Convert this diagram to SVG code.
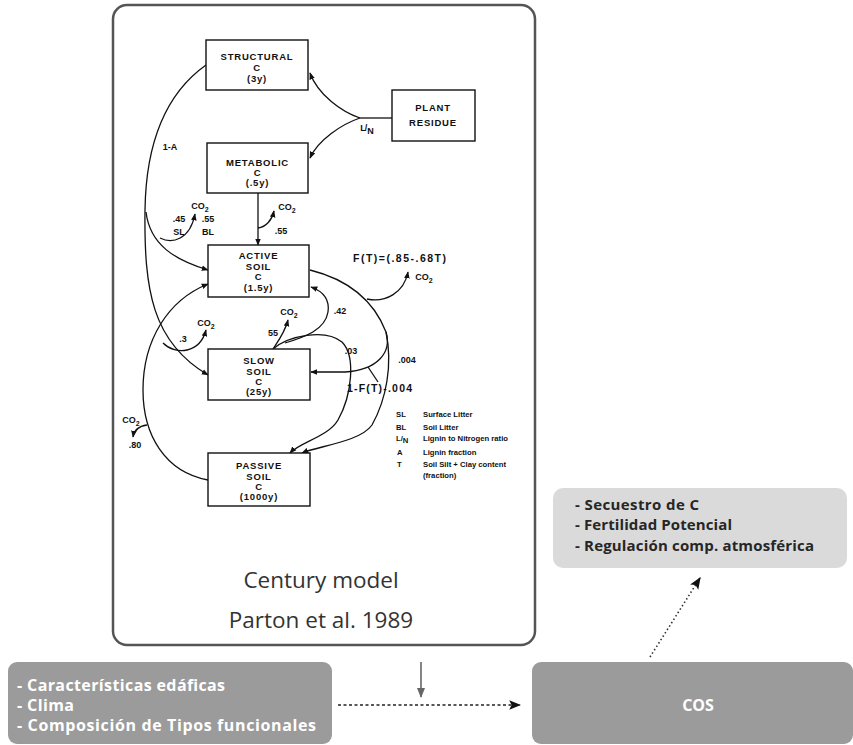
<svg xmlns="http://www.w3.org/2000/svg" width="853" height="745" viewBox="0 0 853 745">
<defs>
<style>
.ln{fill:none;stroke:#111;stroke-width:1.3}
.bx{fill:#fff;stroke:#111;stroke-width:1.4}
.t{font-family:"Liberation Sans",Arial,sans-serif;font-weight:bold;font-size:9.5px;fill:#111;text-anchor:middle;letter-spacing:0.8px}
.s{font-family:"Liberation Sans",Arial,sans-serif;font-weight:bold;font-size:9px;fill:#111;text-anchor:middle}
.sl{font-family:"Liberation Sans",Arial,sans-serif;font-weight:bold;font-size:10.5px;fill:#111;text-anchor:start}
.lg{font-family:"Liberation Sans",Arial,sans-serif;font-weight:bold;font-size:7.7px;fill:#111}
.w{font-family:"Open Sans",sans-serif;font-weight:700;fill:#fff;font-size:16px}
.d{font-family:"Open Sans",sans-serif;font-weight:700;fill:#262626;font-size:15px}
.cap{font-family:"Open Sans",sans-serif;font-size:22.5px;fill:#333;text-anchor:middle}
</style>
<marker id="ah" viewBox="0 0 10 10" refX="9" refY="5" markerWidth="7" markerHeight="7" orient="auto" markerUnits="userSpaceOnUse"><path d="M0,1 L10,5 L0,9 z" fill="#111"/></marker>
<marker id="ahg" viewBox="0 0 10 10" refX="9" refY="5" markerWidth="10" markerHeight="10" orient="auto" markerUnits="userSpaceOnUse"><path d="M0,1 L10,5 L0,9 z" fill="#666"/></marker>
<marker id="ahb" viewBox="0 0 10 10" refX="9" refY="5" markerWidth="12" markerHeight="12" orient="auto" markerUnits="userSpaceOnUse"><path d="M0,1 L10,5 L0,9 L2,5 z" fill="#111"/></marker>
</defs>
<rect width="853" height="745" fill="#fff"/>

<g id="century-frame">
<rect x="113" y="5" width="422" height="640" rx="14" fill="#fff" stroke="#555" stroke-width="2.5"/>
<text class="cap" x="321" y="588">Century model</text>
<text class="cap" x="321" y="628">Parton et al. 1989</text>
</g>

<g id="connectors">
<path class="ln" d="M392,118 L360,118"/>
<path class="ln" d="M360,118 C342,112 318,95 310,73" marker-end="url(#ah)"/>
<path class="ln" d="M360,118 C342,124 318,140 310,158" marker-end="url(#ah)"/>
<path class="ln" d="M206,65 C168,92 146,140 145,210 C144,290 152,342 208,375" marker-end="url(#ah)"/>
<path class="ln" d="M146,212 C150,245 175,260 208,270" marker-end="url(#ah)"/>
<path class="ln" d="M160,238 C172,244 190,240 195,214" marker-end="url(#ah)"/>
<path class="ln" d="M258,193 L258,245" marker-end="url(#ah)"/>
<path class="ln" d="M258,228 C266,227 272,220 274,211" marker-end="url(#ah)"/>
<path class="ln" d="M310,270 C342,278 372,296 386,332"/>
<path class="ln" d="M367,299 C385,303 404,293 408,272" marker-end="url(#ah)"/>
<path class="ln" d="M386,332 C392,352 378,370 345,372 L311,372" marker-end="url(#ah)"/>
<path class="ln" d="M386,332 C393,365 386,400 372,425 C360,442 318,446 302,453" marker-end="url(#ah)"/>
<path class="ln" d="M273,349 C288,336 325,328 342,342 C356,356 352,395 338,420 C328,437 300,442 290,453" marker-end="url(#ah)"/>
<path class="ln" d="M285,343 C305,337 325,330 328,312 C330,298 322,291 311,287" marker-end="url(#ah)"/>
<path class="ln" d="M273,349 C279,340 285,332 288,320" marker-end="url(#ah)"/>
<path class="ln" d="M163,343 C176,356 200,353 206,330" marker-end="url(#ah)"/>
<path class="ln" d="M208,480 C165,472 143,435 143,390 C143,340 168,300 208,284" marker-end="url(#ah)"/>
<path class="ln" d="M147,425 C140,426 134,430 133,437" marker-end="url(#ah)"/>
<path class="ln" d="M378,382 L368,367"/>
</g>

<g id="structural">
<rect class="bx" x="206" y="40" width="102" height="50"/>
<text class="t" x="257" y="60">STRUCTURAL</text>
<text class="t" x="257" y="71">C</text>
<text class="t" x="257" y="82">(3y)</text>
</g>
<g id="metabolic">
<rect class="bx" x="207" y="143" width="101" height="50"/>
<text class="t" x="257.5" y="166">METABOLIC</text>
<text class="t" x="257.5" y="176">C</text>
<text class="t" x="257.5" y="186">(.5y)</text>
</g>
<g id="plant-residue">
<rect class="bx" x="392" y="90" width="83" height="51"/>
<text class="t" x="433" y="111">PLANT</text>
<text class="t" x="433" y="126">RESIDUE</text>
</g>
<g id="active">
<rect class="bx" x="208" y="245" width="101" height="52"/>
<text class="t" x="258.5" y="259">ACTIVE</text>
<text class="t" x="258.5" y="270">SOIL</text>
<text class="t" x="258.5" y="280">C</text>
<text class="t" x="258.5" y="291">(1.5y)</text>
</g>
<g id="slow">
<rect class="bx" x="208" y="349" width="102" height="51"/>
<text class="t" x="259" y="364">SLOW</text>
<text class="t" x="259" y="375">SOIL</text>
<text class="t" x="259" y="385">C</text>
<text class="t" x="259" y="395">(25y)</text>
</g>
<g id="passive">
<rect class="bx" x="208" y="453" width="102" height="53"/>
<text class="t" x="259" y="469">PASSIVE</text>
<text class="t" x="259" y="480">SOIL</text>
<text class="t" x="259" y="490">C</text>
<text class="t" x="259" y="500">(1000y)</text>
</g>

<g id="flow-labels">
<text class="s" x="170" y="150">1-A</text>
<text class="s" x="367" y="131">L<tspan dx="-1">/</tspan><tspan dy="3">N</tspan></text>
<text class="s" x="179" y="222">.45</text>
<text class="s" x="179" y="235">SL</text>
<text class="s" x="208" y="222">.55</text>
<text class="s" x="208" y="235">BL</text>
<text class="s" x="200" y="209">CO<tspan dy="3" font-size="7">2</tspan></text>
<text class="s" x="287" y="210">CO<tspan dy="3" font-size="7">2</tspan></text>
<text class="s" x="281" y="234">.55</text>
<text class="sl" x="353" y="262" textLength="93">F(T)=(.85-.68T)</text>
<text class="s" x="424" y="280">CO<tspan dy="3" font-size="7">2</tspan></text>
<text class="s" x="340" y="314">.42</text>
<text class="s" x="289" y="315">CO<tspan dy="3" font-size="7">2</tspan></text>
<text class="s" x="273" y="336">55</text>
<text class="s" x="183" y="342">.3</text>
<text class="s" x="206" y="326">CO<tspan dy="3" font-size="7">2</tspan></text>
<text class="s" x="351" y="354">.03</text>
<text class="s" x="407" y="363">.004</text>
<text class="sl" x="347" y="392" textLength="65">1-F(T)-.004</text>
<text class="s" x="131" y="423">CO<tspan dy="3" font-size="7">2</tspan></text>
<text class="s" x="135" y="448">.80</text>
</g>

<g id="legend">
<text class="lg" x="396" y="417">SL</text><text class="lg" x="423" y="417">Surface Litter</text>
<text class="lg" x="396" y="430">BL</text><text class="lg" x="423" y="430">Soil Litter</text>
<text class="lg" x="396" y="441">L<tspan>/</tspan><tspan dy="2">N</tspan></text><text class="lg" x="423" y="441">Lignin to Nitrogen ratio</text>
<text class="lg" x="397" y="455">A</text><text class="lg" x="423" y="455">Lignin fraction</text>
<text class="lg" x="397" y="467">T</text><text class="lg" x="423" y="467">Soil Silt + Clay content</text>
<text class="lg" x="423" y="478">(fraction)</text>
</g>

<g id="services">
<rect x="553" y="488" width="294" height="80" rx="10" fill="#dadada"/>
<text class="d" x="575" y="510" textLength="124">- Secuestro de C</text>
<text class="d" x="575" y="530" textLength="157">- Fertilidad Potencial</text>
<text class="d" x="575" y="551" textLength="239">- Regulación comp. atmosférica</text>
</g>
<g id="factors">
<rect x="8" y="662" width="324" height="82" rx="9" fill="#9b9b9b"/>
<text class="w" x="17" y="691" textLength="208">- Características edáficas</text>
<text class="w" x="17" y="711" textLength="57">- Clima</text>
<text class="w" x="17" y="731" textLength="299">- Composición de Tipos funcionales</text>
</g>
<g id="cos">
<rect x="532" y="662" width="321" height="82" rx="9" fill="#9b9b9b"/>
<text class="w" x="698" y="711" text-anchor="middle" font-size="17">COS</text>
</g>
<g id="main-connectors">
<path d="M421,662 L421,697" stroke="#666" stroke-width="1.6" fill="none" marker-end="url(#ahg)"/>
<path d="M338,705 L520,705" stroke="#222" stroke-width="1.4" stroke-dasharray="3,2.5" fill="none" marker-end="url(#ahb)"/>
<path d="M650,657 L700,578" stroke="#333" stroke-width="1.6" stroke-dasharray="1.5,2.5" fill="none" marker-end="url(#ahb)"/>
</g>
</svg>
